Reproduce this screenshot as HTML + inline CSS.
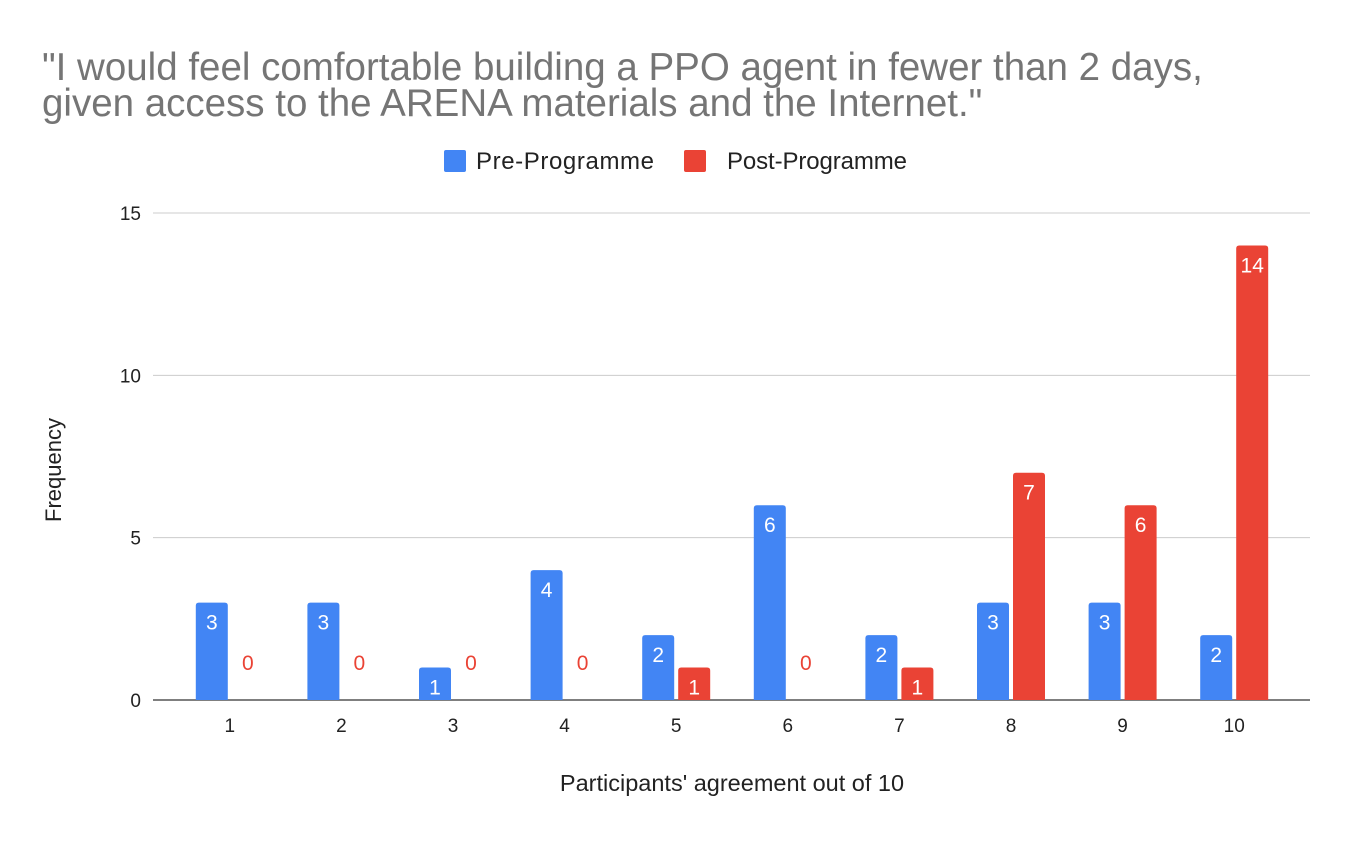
<!DOCTYPE html>
<html><head><meta charset="utf-8"><style>
body{margin:0;background:#fff;font-family:"Liberation Sans",Arial,sans-serif}
svg text{font-family:"Liberation Sans",Arial,sans-serif}
</style></head><body>
<svg id="c" width="1352" height="838" xmlns="http://www.w3.org/2000/svg">
<text x="42" y="80" font-size="38.5" fill="#757575">"I would feel comfortable building a PPO agent in fewer than 2 days,</text>
<text x="42" y="116" font-size="38.5" fill="#757575">given access to the ARENA materials and the Internet."</text>
<rect x="444" y="150" width="22" height="22" rx="2" fill="#4285f4"/>
<text x="476" y="169" font-size="24" fill="#222" textLength="178">Pre-Programme</text>
<rect x="684" y="150" width="22" height="22" rx="2" fill="#ea4335"/>
<text x="727" y="169" font-size="24" fill="#222" textLength="180">Post-Programme</text>
<text transform="translate(61,470) rotate(-90)" text-anchor="middle" font-size="22" fill="#222">Frequency</text>
<text x="732" y="791" text-anchor="middle" font-size="23.5" fill="#222">Participants' agreement out of 10</text>
<g id="grid"></g><g id="bars"></g>
</svg>
<script>
const categories=["1","2","3","4","5","6","7","8","9","10"];
const preValues=[3,3,1,4,2,6,2,3,3,2];
const postValues=[0,0,0,0,1,0,1,7,6,14];
const yTicks=[0,5,10,15];
const NS="http://www.w3.org/2000/svg";
const y0=700,yTop=213,yMax=15;
const yS=v=>y0-(y0-yTop)*v/yMax;
const bandStart=174,bandW=111.6;
const xC=i=>bandStart+bandW*(i+0.5);
const grid=document.getElementById('grid'),bars=document.getElementById('bars');
function mk(t,a,p){const e=document.createElementNS(NS,t);for(const k in a)e.setAttribute(k,a[k]);p.appendChild(e);return e;}
yTicks.forEach(v=>{
 const l=mk('line',{x1:153,x2:1310,y1:yS(v),y2:yS(v),stroke:v===0?'#333':'#ccc','stroke-width':v===0?1.3:1},grid);
 
 
 const t=mk('text',{x:141,y:yS(v)+7,'text-anchor':'end','font-size':19,fill:'#222'},grid);t.textContent=v;
 
 
});
function bar(x,v,color,name){
 const w=32,top=yS(v),h=y0-top,r=Math.min(3,h);
 if(v>0){
  const p=mk('path',{d:`M${x},${y0}V${top+r}Q${x},${top} ${x+r},${top}H${x+w-r}Q${x+w},${top} ${x+w},${top+r}V${y0}Z`,fill:color},bars);
  
  
  const t=mk('text',{x:x+w/2,y:top+27,'text-anchor':'middle','font-size':21,fill:'#fff'},bars);t.textContent=v;
  
  
 }else{
  const t=mk('text',{x:x+w/2,y:y0-30,'text-anchor':'middle','font-size':21,fill:color},bars);t.textContent=v;
  
  
 }
}
categories.forEach((c,i)=>{
 const cx=xC(i);
 bar(cx-34,preValues[i],'#4285f4','bar-pre-'+c);
 bar(cx+2,postValues[i],'#ea4335','bar-post-'+c);
 const t=mk('text',{x:cx,y:732,'text-anchor':'middle','font-size':19,fill:'#222'},bars);t.textContent=c;
 
 
});
</script>
</body></html>
